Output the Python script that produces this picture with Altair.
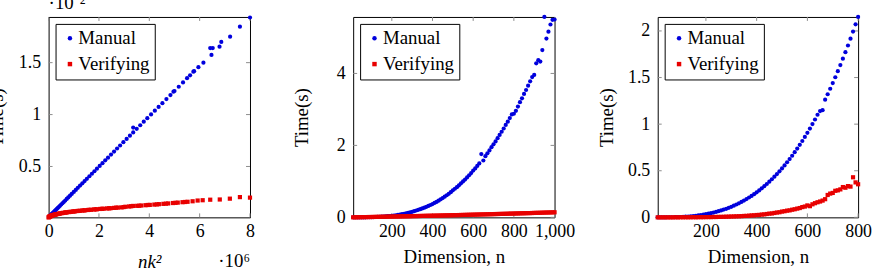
import altair as alt
import pandas as pd

# ---------------- data ----------------
SERIES = ["Manual", "Verifying"]

# Panel 1: x = n*k^2 (x10^6), y = time (x10^-2 s)
p1_manual_x = [0.01, 0.02, 0.04, 0.06, 0.08, 0.1, 0.13, 0.16, 0.2, 0.24, 0.28, 0.32, 0.36, 0.4,
               0.45, 0.5, 0.55, 0.6, 0.66, 0.72, 0.78, 0.85, 0.92, 1.0, 1.08, 1.16, 1.25, 1.34,
               1.43, 1.52, 1.62, 1.72, 1.82, 1.92, 2.03, 2.14, 2.25, 2.36, 2.48, 2.6, 2.72, 2.84,
               2.97, 3.1, 3.23, 3.36, 3.36, 3.5, 3.64, 3.78, 3.92, 4.07, 4.22, 4.37, 4.52, 4.68,
               4.84, 4.96, 5.0, 5.17, 5.34, 5.5, 5.62, 5.75, 5.78, 5.95, 6.15, 6.42, 6.47, 6.52,
               6.79, 6.86, 7.21, 7.6, 8.0]
p1_manual_y = [0.014, 0.017, 0.022, 0.027, 0.031, 0.036, 0.044, 0.051, 0.061, 0.07, 0.08, 0.09,
               0.099, 0.109, 0.121, 0.134, 0.146, 0.158, 0.172, 0.187, 0.202, 0.219, 0.236, 0.255,
               0.274, 0.294, 0.316, 0.338, 0.359, 0.381, 0.406, 0.43, 0.454, 0.479, 0.505, 0.532,
               0.559, 0.585, 0.615, 0.644, 0.673, 0.702, 0.734, 0.765, 0.797, 0.828, 0.875, 0.863,
               0.897, 0.931, 0.965, 1.001, 1.037, 1.074, 1.11, 1.149, 1.188, 1.22, 1.227, 1.268,
               1.31, 1.35, 1.378, 1.413, 1.418, 1.456, 1.5, 1.64, 1.574, 1.64, 1.654, 1.7, 1.75,
               1.846, 1.935]
p1_verify_x = [0.0, 0.01, 0.02, 0.03, 0.04, 0.05, 0.07, 0.09, 0.1, 0.12, 0.13, 0.16, 0.18, 0.2,
               0.23, 0.25, 0.28, 0.3, 0.35, 0.4, 0.43, 0.46, 0.52, 0.55, 0.58, 0.65, 0.68, 0.72,
               0.8, 0.84, 0.88, 0.96, 1.0, 1.05, 1.14, 1.19, 1.24, 1.34, 1.4, 1.45, 1.56, 1.62,
               1.68, 1.8, 1.86, 1.92, 2.05, 2.12, 2.18, 2.32, 2.4, 2.46, 2.6, 2.68, 2.75, 2.9,
               2.98, 3.05, 3.2, 3.28, 3.36, 3.52, 3.6, 3.68, 3.85, 3.94, 4.02, 4.2, 4.3, 4.38,
               4.56, 4.66, 4.75, 4.94, 5.04, 5.13, 5.32, 5.42, 5.52, 5.72, 5.92, 6.12, 6.42,
               6.8, 7.2, 7.6, 8.0]
p1_verify_y = [0.01, 0.012, 0.014, 0.016, 0.017, 0.018, 0.021, 0.023, 0.024, 0.026, 0.027, 0.03,
               0.031, 0.033, 0.035, 0.036, 0.038, 0.039, 0.042, 0.045, 0.046, 0.048, 0.051,
               0.052, 0.053, 0.056, 0.057, 0.058, 0.061, 0.062, 0.063, 0.066, 0.067, 0.068,
               0.071, 0.072, 0.073, 0.076, 0.077, 0.078, 0.081, 0.082, 0.083, 0.086, 0.087,
               0.088, 0.091, 0.092, 0.093, 0.096, 0.097, 0.098, 0.101, 0.103, 0.104, 0.106,
               0.109, 0.112, 0.115, 0.117, 0.12, 0.121, 0.122, 0.124, 0.127, 0.129, 0.13,
               0.133, 0.135, 0.137, 0.14, 0.142, 0.144, 0.148, 0.15, 0.152, 0.156, 0.158, 0.16,
               0.165, 0.172, 0.175, 0.18, 0.182, 0.19, 0.205, 0.2]

# Panel 2: dimension n = 10..1000
p2_n = list(range(10, 1001, 10))
p2_manual = [0.0, 0.0, 0.0, 0.0, 0.001, 0.001, 0.002, 0.003, 0.004, 0.006,
             0.007, 0.01, 0.012, 0.015, 0.019, 0.023, 0.027, 0.032, 0.038, 0.044,
             0.051, 0.059, 0.067, 0.076, 0.087, 0.098, 0.11, 0.123, 0.137, 0.154,
             0.172, 0.19, 0.208, 0.227, 0.248, 0.27, 0.293, 0.317, 0.343, 0.37,
             0.4, 0.43, 0.465, 0.5, 0.535, 0.575, 0.615, 0.655, 0.7, 0.75,
             0.795, 0.84, 0.89, 0.945, 1.0, 1.05, 1.11, 1.17, 1.23, 1.3,
             1.36, 1.43, 1.5, 1.76, 1.58, 1.7, 1.78, 1.86, 1.95, 2.03,
             2.11, 2.2, 2.29, 2.38, 2.47, 2.57, 2.66, 2.76, 2.86, 2.88,
             2.96, 3.08, 3.2, 3.31, 3.43, 3.54, 3.66, 3.78, 3.9, 3.96,
             4.28, 4.37, 4.33, 4.65, 5.57, 4.97, 5.16, 5.36, 5.49, 5.5]
p2_verify = [0.001, 0.002, 0.003, 0.004, 0.005, 0.006, 0.007, 0.008, 0.009, 0.01,
             0.011, 0.013, 0.014, 0.015, 0.016, 0.017, 0.018, 0.02, 0.021, 0.022,
             0.023, 0.024, 0.025, 0.026, 0.028, 0.029, 0.03, 0.031, 0.032, 0.034,
             0.035, 0.036, 0.037, 0.039, 0.04, 0.041, 0.043, 0.044, 0.045, 0.046,
             0.048, 0.049, 0.05, 0.052, 0.053, 0.055, 0.056, 0.057, 0.059, 0.06,
             0.062, 0.063, 0.064, 0.066, 0.067, 0.069, 0.07, 0.072, 0.073, 0.075,
             0.076, 0.078, 0.079, 0.081, 0.082, 0.084, 0.085, 0.087, 0.088, 0.09,
             0.092, 0.093, 0.095, 0.096, 0.098, 0.099, 0.101, 0.103, 0.104, 0.106,
             0.108, 0.109, 0.111, 0.113, 0.114, 0.116, 0.118, 0.119, 0.121, 0.123,
             0.125, 0.126, 0.128, 0.13, 0.132, 0.134, 0.135, 0.137, 0.139, 0.141]

# Panel 3: dimension n = 10..800
p3_n = list(range(10, 801, 10))
p3_manual = [0.0, 0.0, 0.0, 0.0, 0.001, 0.001, 0.001, 0.002, 0.003, 0.004,
             0.006, 0.007, 0.009, 0.012, 0.014, 0.017, 0.021, 0.024, 0.029, 0.034,
             0.039, 0.045, 0.051, 0.058, 0.066, 0.074, 0.083, 0.092, 0.102, 0.113,
             0.125, 0.138, 0.151, 0.165, 0.18, 0.196, 0.213, 0.23, 0.249, 0.269,
             0.289, 0.311, 0.334, 0.358, 0.383, 0.409, 0.436, 0.464, 0.494, 0.525,
             0.557, 0.591, 0.625, 0.661, 0.699, 0.738, 0.778, 0.819, 0.863, 0.907,
             0.953, 1.001, 1.05, 1.101, 1.14, 1.15, 1.263, 1.321, 1.38, 1.441,
             1.503, 1.568, 1.634, 1.702, 1.772, 1.844, 1.917, 1.993, 2.071, 2.15]
p3_verify = [0.0, 0.0, 0.0, 0.0, 0.0, 0.0, 0.0, 0.001, 0.0, 0.001,
             0.001, 0.001, 0.001, 0.001, 0.002, 0.001, 0.002, 0.002, 0.002, 0.003,
             0.003, 0.003, 0.004, 0.004, 0.005, 0.005, 0.006, 0.007, 0.008, 0.009,
             0.01, 0.011, 0.012, 0.013, 0.015, 0.016, 0.018, 0.021, 0.022, 0.025,
             0.026, 0.03, 0.032, 0.036, 0.04, 0.042, 0.047, 0.052, 0.055, 0.062,
             0.066, 0.072, 0.075, 0.082, 0.087, 0.094, 0.1, 0.11, 0.116, 0.128,
             0.12, 0.14, 0.152, 0.162, 0.17, 0.18, 0.195, 0.24, 0.255, 0.262,
             0.285, 0.29, 0.3, 0.325, 0.318, 0.335, 0.33, 0.43, 0.375, 0.355]

# axis ticks
p1_xticks = [0, 2, 4, 6, 8]
p1_yticks = [0.5, 1, 1.5]
p2_xticks = [200, 400, 600, 800, 1000]
p2_yticks = [0, 2, 4]
p3_xticks = [200, 400, 600, 800]
p3_yticks = [0, 0.5, 1, 1.5, 2]

# ---------------- styling ----------------
FONT = "Liberation Serif"
BLUE = "#0000dd"
RED = "#e80000"
TICK = "#8c8c8c"
H = 202


def panel(mx, my, vx, vy, xdom, ydom, xt, yt, xfmt, yfmt, xtitle, w,
          xtitle_style="normal", xtitle_pad=7, extra=()):
    df = pd.DataFrame({
        "x": list(mx) + list(vx),
        "y": list(my) + list(vy),
        "series": ["Manual"] * len(mx) + ["Verifying"] * len(vx),
    })
    xaxis = alt.Axis(values=xt, format=xfmt, title=xtitle, labelFont=FONT, titleFont=FONT,
                     titleFontStyle=xtitle_style, titlePadding=xtitle_pad)
    yaxis = alt.Axis(values=yt, format=yfmt, title="Time(s)", labelFont=FONT, titleFont=FONT)
    xsc = alt.Scale(domain=xdom, nice=False, zero=False)
    ysc = alt.Scale(domain=ydom, nice=False, zero=False)
    leg = alt.Legend(title=None, orient="top-left", offset=7, labelFont=FONT,
                     labelOffset={"expr": "-1"})
    pts = alt.Chart(df).mark_point(filled=True, opacity=1, strokeWidth=0, size=18).encode(
        x=alt.X("x:Q", scale=xsc, axis=xaxis),
        y=alt.Y("y:Q", scale=ysc, axis=yaxis),
        color=alt.Color("series:N", scale=alt.Scale(domain=SERIES, range=[BLUE, RED]), legend=leg),
        shape=alt.Shape("series:N", scale=alt.Scale(domain=SERIES, range=["circle", "square"]), legend=leg),
    )
    xdf = pd.DataFrame({"x": xt})
    ydf = pd.DataFrame({"y": yt})
    xr = alt.X("x:Q", scale=xsc, axis=xaxis)
    yr = alt.Y("y:Q", scale=ysc, axis=yaxis)
    t_bottom = alt.Chart(xdf).mark_rule(color=TICK, strokeWidth=1).encode(
        x=xr, y=alt.value(H), y2=alt.value(H - 4))
    t_top = alt.Chart(xdf).mark_rule(color=TICK, strokeWidth=1).encode(
        x=xr, y=alt.value(0), y2=alt.value(4))
    t_left = alt.Chart(ydf).mark_rule(color=TICK, strokeWidth=1).encode(
        y=yr, x=alt.value(0), x2=alt.value(4))
    t_right = alt.Chart(ydf).mark_rule(color=TICK, strokeWidth=1).encode(
        y=yr, x=alt.value(w), x2=alt.value(w - 4))
    layers = [t_bottom, t_top, t_left, t_right, pts]
    for (df_t, align, ypix) in extra:
        layers.append(alt.Chart(df_t).mark_text(
            align=align, baseline="alphabetic", font=FONT, fontSize=19, color="black").encode(
            x=xr, y=alt.value(ypix), text="t:N"))
    return alt.layer(*layers).properties(width=w, height=H)


exp_bottom_df = pd.DataFrame({"x": [8], "t": ["·10⁶"]})
exp_top_df = pd.DataFrame({"x": [0], "t": ["·10⁻²"]})

p1 = panel(p1_manual_x, p1_manual_y, p1_verify_x, p1_verify_y, [0, 8], [0.01, 1.94],
           p1_xticks, p1_yticks, "d", "~g", "nk²", 203, xtitle_style="italic", xtitle_pad=12,
           extra=[(exp_bottom_df, "right", H + 50), (exp_top_df, "left", -8)])
p2 = panel(p2_n, p2_manual, p2_n, p2_verify, [10, 1000], [0, 5.57],
           p2_xticks, p2_yticks, ",d", "~g", "Dimension, n", 203)
p3 = panel(p3_n, p3_manual, p3_n, p3_verify, [10, 800], [0, 2.15],
           p3_xticks, p3_yticks, "d", "~g", "Dimension, n", 202)

chart = alt.hconcat(p1, p2, p3, spacing=104, bounds="flush").resolve_scale(
    color="independent", shape="independent"
).resolve_legend(color="independent", shape="independent").properties(
    padding={"left": -13, "top": -8, "right": 0, "bottom": 0}
).configure_view(
    stroke="black", strokeWidth=1
).configure_axis(
    labelFont=FONT, labelFontSize=18, labelColor="black",
    titleFont=FONT, titleFontSize=19, titleFontWeight="normal", titleColor="black",
    ticks=False, domain=False, grid=False,
).configure_axisX(
    labelPadding=5, minExtent=24, maxExtent=24, labelFlush=False,
).configure_axisY(
    labelPadding=8, minExtent=34, maxExtent=34, titlePadding=8,
).configure_legend(
    strokeColor="black", fillColor="white", padding=5, rowPadding=6,
    labelFont=FONT, labelFontSize=19, labelColor="black", symbolSize=20,
    cornerRadius=0, symbolStrokeWidth=0,
)

chart.save("out.html", embed_options={"renderer": "svg", "actions": False})
